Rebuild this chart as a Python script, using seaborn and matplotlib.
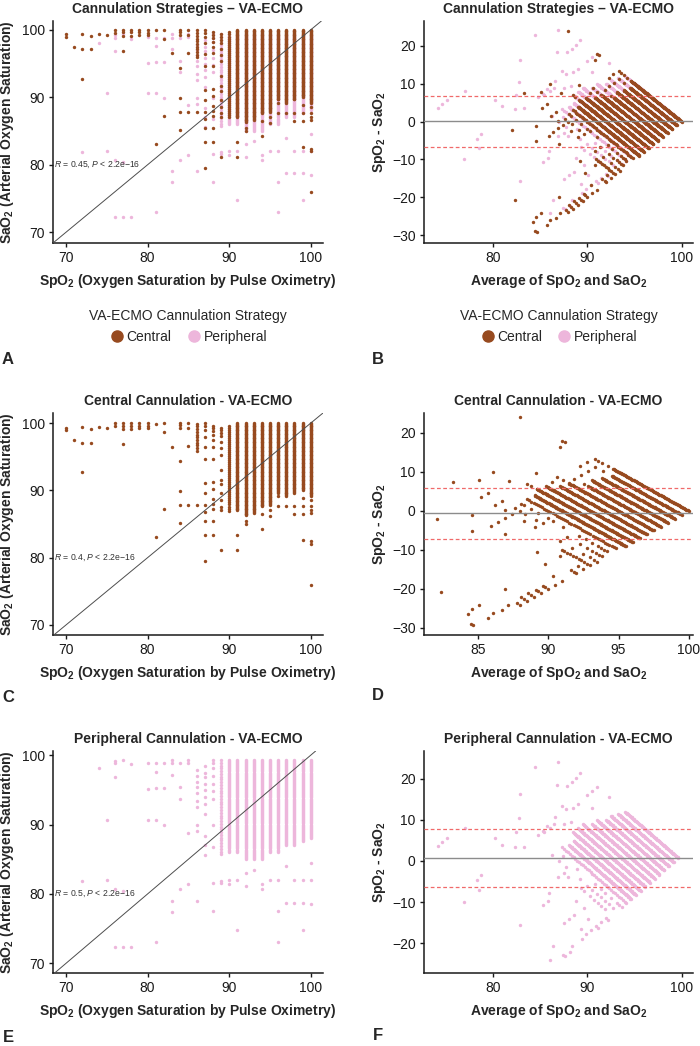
import numpy as np
import pandas as pd
import matplotlib
matplotlib.use("Agg")
import matplotlib.pyplot as plt
import seaborn as sns
from matplotlib.lines import Line2D

# ---------------- data ----------------
strategies = ["Central", "Peripheral"]
strategy_colors = ["#974A1F", "#EDB6DB"]

# dense SaO2 columns (integer SpO2 readings, SaO2 recorded at instrument resolution)
central_band_spo2 = [86, 90, 91, 92, 93, 94, 95, 96, 97, 98, 99, 100]
central_band_low = [95.7, 87.0, 87.0, 86.3, 86.6, 87.6, 87.8, 89.6, 89.1, 89.6, 90.0, 89.1]
central_band_high = [99.9, 99.6, 100.0, 100.0, 100.0, 100.0, 100.0, 100.0, 100.0, 100.0, 100.0, 100.0]
central_band_res = [0.4, 0.3, 0.12, 0.12, 0.12, 0.12, 0.12, 0.12, 0.12, 0.12, 0.12, 0.12]

# isolated central observations
central_spo2 = [70, 70, 71, 72, 72, 72, 73, 73, 74, 75,
                76, 76, 77, 77, 77, 77, 78, 78, 78, 79, 79, 79, 80, 80, 80,
                81, 81, 82, 82, 82, 83,
                84, 84, 84, 84, 84, 84, 84,
                85, 85, 85, 85, 86,
                87, 87, 87, 87, 87, 87, 87, 87, 87, 87, 87, 87, 87,
                88, 88, 88, 88, 88, 88, 88, 88, 88, 88, 88, 88, 88, 88,
                89, 89, 89, 89, 89, 89, 89, 89, 89, 89, 89, 89, 89, 89, 89,
                91, 91, 92, 92, 94, 94, 95, 95, 96, 96, 97, 98, 98,
                99, 99, 99, 99, 100, 100, 100, 100, 100, 100, 100]
central_sao2 = [99.3, 99.0, 97.5, 99.4, 97.1, 92.7, 99.1, 97.1, 99.4, 99.2,
                100.0, 99.5, 100.0, 99.6, 99.1, 96.9, 100.0, 99.6, 99.1, 100.0, 99.6, 99.2, 100.0, 99.5, 99.2,
                99.9, 83.1, 100.0, 98.7, 87.2, 96.5,
                100.0, 99.7, 99.2, 94.4, 89.9, 87.8, 85.1,
                100.0, 99.2, 96.6, 87.8, 87.8,
                100.0, 99.5, 98.9, 98.0, 96.4, 94.7, 91.1, 89.6, 87.8, 86.8, 85.4, 83.4, 79.5,
                99.6, 99.2, 98.8, 98.2, 97.5, 96.5, 94.7, 91.2, 90.2, 88.7, 88.0, 87.2, 85.4, 83.4,
                99.3, 98.9, 98.5, 98.1, 97.2, 96.3, 95.3, 93.1, 91.6, 90.9, 89.6, 88.6, 87.6, 87.1, 81.1,
                83.4, 81.1, 85.5, 85.0, 86.5, 84.3, 87.1, 86.2, 89.1, 87.7, 87.7, 87.7, 86.5,
                88.8, 87.7, 86.5, 82.6, 88.5, 87.7, 87.1, 86.7, 82.4, 82.0, 76.0]

peripheral_band_spo2 = [89, 90, 91, 92, 93, 94, 95, 96, 97, 98, 99, 100]
peripheral_band_low = [85.5, 86.0, 86.0, 85.0, 85.0, 85.0, 86.0, 86.0, 87.0, 87.0, 87.5, 88.0]
peripheral_band_high = [99.3, 99.3, 99.3, 99.3, 99.3, 99.3, 99.3, 99.3, 99.3, 99.3, 99.3, 99.3]
peripheral_band_res = [0.4, 0.15, 0.15, 0.15, 0.15, 0.15, 0.15, 0.15, 0.15, 0.15, 0.15, 0.15]

peripheral_spo2 = [72, 74, 75, 75, 76, 76, 76, 76, 76, 77, 77, 77, 78, 78,
                   80, 80, 80, 81, 81, 81, 81, 81, 82, 82, 82,
                   83, 83, 83, 83, 83, 84, 84, 84, 84, 85, 85, 85, 85,
                   86, 86, 86, 86, 86, 86, 86, 86, 86, 86,
                   87, 87, 87, 87, 87, 87, 87, 87, 87, 87, 87,
                   88, 88, 88, 88, 88, 88, 88, 88, 88, 88, 88,
                   89, 89, 90, 90, 91, 91, 92, 92, 93, 94, 94, 95,
                   96, 96, 96, 97, 97, 98, 98, 99, 99, 99, 100, 100, 100]
peripheral_sao2 = [81.9, 98.1, 90.7, 82.0, 99.2, 98.8, 96.8, 80.7, 72.3, 99.3, 80.4, 72.3, 98.7, 72.3,
                   98.9, 95.1, 90.7, 98.8, 97.6, 95.2, 90.7, 73.0, 98.8, 95.2, 89.9,
                   99.3, 98.8, 97.2, 79.0, 77.4, 98.8, 95.4, 93.7, 80.7, 99.3, 98.9, 88.8, 81.5,
                   97.8, 97.0, 96.2, 95.4, 94.6, 93.4, 92.6, 89.9, 89.0, 79.0,
                   98.5, 97.5, 96.8, 95.8, 95.0, 94.0, 93.0, 91.5, 88.4, 87.0, 85.6,
                   99.3, 98.8, 98.2, 97.0, 95.8, 94.8, 93.7, 89.9, 86.8, 81.6, 77.5,
                   81.9, 81.6, 82.0, 81.4, 82.0, 74.8, 83.0, 81.2, 83.5, 81.4, 80.7, 82.0,
                   82.0, 77.5, 73.0, 78.7, 84.0, 82.0, 78.7, 82.0, 78.7, 74.8, 84.5, 82.0, 78.5]

# Bland-Altman summary lines (bias, limits of agreement) for All / Central / Peripheral
ba_bias = [0.1, -0.6, 0.7]
ba_upper = [6.9, 5.8, 7.8]
ba_lower = [-6.7, -7.1, -6.4]
corr_r = ["0.45", "0.4", "0.5"]

panel_titles_left = ["Cannulation Strategies \u2013 VA-ECMO", "Central Cannulation - VA-ECMO",
                     "Peripheral Cannulation - VA-ECMO"]
panel_titles_right = ["Cannulation Strategies \u2013 VA-ECMO", "Central Cannulation - VA-ECMO",
                      "Peripheral Cannulation - VA-ECMO"]
panel_letters = ["A", "B", "C", "D", "E", "F"]


def build(strategy, bs, blo, bhi, bres, ps, pa):
    xs, ys = [], []
    for s, lo, hi, r in zip(bs, blo, bhi, bres):
        vals = np.arange(hi, lo - 1e-9, -r)
        xs += [s] * len(vals)
        ys += list(vals)
    xs += list(ps)
    ys += list(pa)
    d = pd.DataFrame({"SpO2": xs, "SaO2": ys})
    d["Strategy"] = strategy
    return d


df_c = build("Central", central_band_spo2, central_band_low, central_band_high, central_band_res,
             central_spo2, central_sao2)
df_p = build("Peripheral", peripheral_band_spo2, peripheral_band_low, peripheral_band_high,
             peripheral_band_res, peripheral_spo2, peripheral_sao2)
df_all = pd.concat([df_p, df_c], ignore_index=True)
for d in (df_c, df_p, df_all):
    d["Average"] = (d["SpO2"] + d["SaO2"]) / 2
    d["Diff"] = d["SpO2"] - d["SaO2"]

palette = dict(zip(strategies, strategy_colors))

# ---------------- style ----------------
sns.set_theme(style="ticks")
plt.rcParams.update({
    "font.family": ["Liberation Sans", "DejaVu Sans"],
    "mathtext.fontset": "custom",
    "mathtext.rm": "Liberation Sans",
    "mathtext.it": "Liberation Sans:italic",
    "mathtext.bf": "Liberation Sans:bold",
    "axes.linewidth": 1.1,
    "axes.edgecolor": "#1a1a1a",
    "xtick.major.size": 3,
    "ytick.major.size": 3,
    "xtick.major.width": 1.0,
    "ytick.major.width": 1.0,
    "xtick.labelsize": 10,
    "ytick.labelsize": 10,
    "xtick.color": "#1a1a1a",
    "ytick.color": "#1a1a1a",
})

W, H = 700, 1046
fig = plt.figure(figsize=(W / 100, H / 100), dpi=100)

row_tops = [21, 413, 751]
ax_h = 222
left_rect = (53, 270)
right_rect = (424, 269)


def add_ax(x0, w, top):
    return fig.add_axes([x0 / W, 1 - (top + ax_h) / H, w / W, ax_h / H])


datasets = [df_all, df_c, df_p]
left_xlims = [(68.4, 101.5), (68.4, 101.5), (68.4, 101.5)]
left_ylims = [(68.4, 101.3), (68.5, 101.5), (68.6, 100.6)]
right_xlims = [(72.7, 101.2), (81.15, 100.3), (72.7, 101.2)]
right_ylims = [(-32.1, 26.6), (-31.8, 25.1), (-27.3, 26.8)]
right_xticks = [[80, 90, 100], [85, 90, 95, 100], [80, 90, 100]]
right_yticks = [[-30, -20, -10, 0, 10, 20], [-30, -20, -10, 0, 10, 20], [-20, -10, 0, 10, 20]]

lab_spo2 = r"$\mathbf{SpO_2}$ (Oxygen Saturation by Pulse Oximetry)"
lab_sao2 = r"$\mathbf{SaO_2}$ (Arterial Oxygen Saturation)"
lab_diff = r"$\mathbf{SpO_2}$ - $\mathbf{SaO_2}$"
lab_avg = r"Average of $\mathbf{SpO_2}$ and $\mathbf{SaO_2}$"
minus = "\u2212"

for i, d in enumerate(datasets):
    top = row_tops[i]
    axL = add_ax(left_rect[0], left_rect[1], top)
    axR = add_ax(right_rect[0], right_rect[1], top)

    for strat in ["Peripheral", "Central"]:
        sub = d[d["Strategy"] == strat]
        if len(sub) == 0:
            continue
        sns.scatterplot(data=sub, x="SpO2", y="SaO2", color=palette[strat], s=6,
                        linewidth=0, ax=axL, legend=False, zorder=3)
        sns.scatterplot(data=sub, x="Average", y="Diff", color=palette[strat], s=6,
                        linewidth=0, ax=axR, legend=False, zorder=3)

    # left: scatter with identity line
    axL.axline((70, 70), (100, 100), color="#4d4d4d", lw=0.7, zorder=4)
    axL.set_xlim(*left_xlims[i])
    axL.set_ylim(*left_ylims[i])
    axL.set_xticks([70, 80, 90, 100])
    axL.set_yticks([70, 80, 90, 100])
    axL.text(left_xlims[i][0] + 0.15, 80,
             r"$\it{R}$ = " + corr_r[i] + r", $\it{P}$ < 2.2e" + minus + "16",
             fontsize=6.2, color="#333333", va="center", ha="left", zorder=5)
    axL.set_xlabel(lab_spo2, fontsize=10, fontweight="bold", labelpad=5)
    axL.set_ylabel(lab_sao2, fontsize=10, fontweight="bold", labelpad=4)
    axL.set_title(panel_titles_left[i], fontsize=10, fontweight="bold", pad=5.5)

    # right: Bland-Altman
    axR.axhline(ba_bias[i], color="#8c8c8c", lw=1.0, zorder=4)
    axR.axhline(ba_upper[i], color="#f06a6a", lw=0.9, ls=(0, (3, 2)), zorder=4)
    axR.axhline(ba_lower[i], color="#f06a6a", lw=0.9, ls=(0, (3, 2)), zorder=4)
    axR.set_xlim(*right_xlims[i])
    axR.set_ylim(*right_ylims[i])
    axR.set_xticks(right_xticks[i])
    axR.set_yticks(right_yticks[i])
    axR.set_yticklabels([str(v).replace("-", minus) for v in right_yticks[i]])
    axR.set_xlabel(lab_avg, fontsize=10, fontweight="bold", labelpad=5)
    axR.set_ylabel(lab_diff, fontsize=10, fontweight="bold", labelpad=3)
    axR.set_title(panel_titles_right[i], fontsize=10, fontweight="bold", pad=5.5)

    for ax in (axL, axR):
        sns.despine(ax=ax)
        ax.tick_params(pad=3)

    if i == 0:
        handles = [Line2D([], [], marker="o", ls="", color=c, markersize=8) for c in strategy_colors]
        for ax in (axL, axR):
            leg = ax.legend(handles, strategies, title="VA-ECMO Cannulation Strategy",
                            loc="upper center", bbox_to_anchor=(0.5, -0.285), ncol=2,
                            frameon=False, fontsize=10, title_fontsize=10,
                            handletextpad=0.1, columnspacing=1.0, handlelength=1.2,
                            borderaxespad=0, borderpad=0.2, labelspacing=0.2)
            leg._legend_box.sep = 5

letter_pos = [(8, 360), (378, 359), (8, 697), (378, 695), (8, 1037), (378, 1036)]
for (x, y), letter in zip(letter_pos, panel_letters):
    fig.text(x / W, 1 - y / H, letter, fontsize=12, fontweight="bold", ha="center", va="center")

fig.savefig("out.png", dpi=100)
